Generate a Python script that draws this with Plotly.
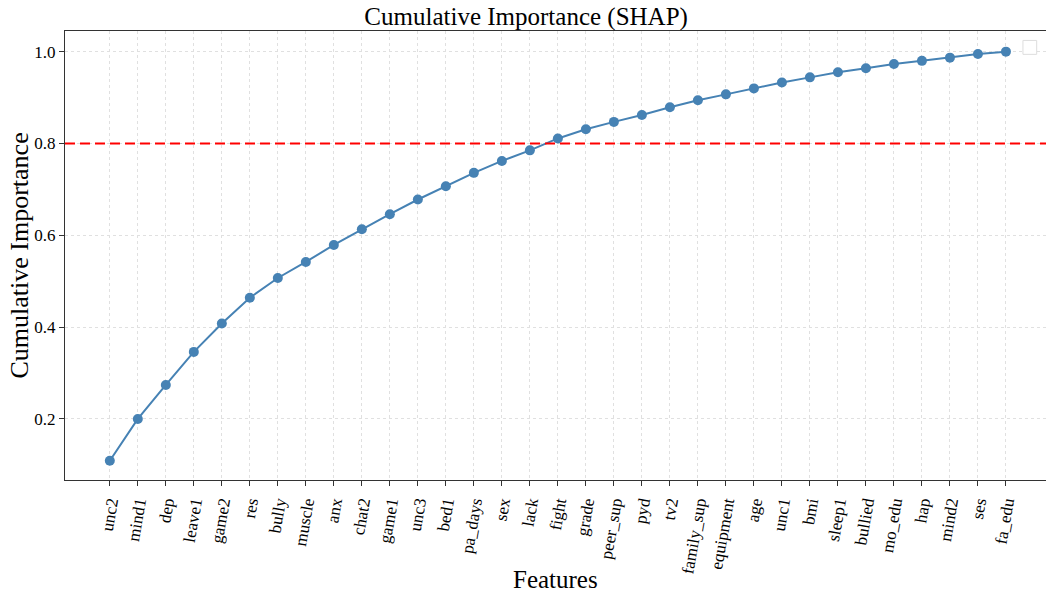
import plotly.graph_objects as go

features = ["unc2", "mind1", "dep", "leave1", "game2", "res", "bully", "muscle", "anx",
            "chat2", "game1", "unc3", "bed1", "pa_days", "sex", "lack", "fight", "grade",
            "peer_sup", "pyd", "tv2", "family_sup", "equipment", "age", "unc1", "bmi",
            "sleep1", "bullied", "mo_edu", "hap", "mind2", "ses", "fa_edu"]
cumulative = [0.109, 0.200, 0.274, 0.346, 0.408, 0.464, 0.507, 0.542, 0.579,
              0.613, 0.646, 0.678, 0.707, 0.736, 0.762, 0.785, 0.811, 0.831,
              0.847, 0.862, 0.879, 0.894, 0.907, 0.920, 0.933, 0.944,
              0.955, 0.964, 0.973, 0.980, 0.987, 0.995, 1.000]
threshold = 0.8
y_ticks = [0.2, 0.4, 0.6, 0.8, 1.0]

FONT = "Liberation Serif, Times New Roman, serif"
idx = list(range(len(features)))

fig = go.Figure()
fig.add_trace(go.Scatter(
    x=idx, y=cumulative, mode="lines+markers",
    line=dict(color="#4682B4", width=2),
    marker=dict(color="#4682B4", size=10),
    showlegend=False,
))

fig.add_shape(type="line", xref="paper", yref="y", x0=0, x1=1,
              y0=threshold, y1=threshold,
              line=dict(color="red", width=2, dash="10px,5px"))

# empty legend box (as in reference)
fig.add_shape(type="rect", xref="paper", yref="paper",
              x0=0.9765, x1=0.9905, y0=0.948, y1=0.979,
              line=dict(color="#dddddd", width=1), fillcolor="white")

fig.add_annotation(text="Cumulative Importance", xref="paper", yref="paper",
                   x=0, y=0.5, xanchor="center", yanchor="middle",
                   xshift=-46, textangle=-90, showarrow=False,
                   font=dict(size=26, family=FONT, color="black"))

fig.add_annotation(text="Features", xref="paper", yref="paper",
                   x=0.5, y=0, xanchor="center", yanchor="middle",
                   yshift=-99, showarrow=False,
                   font=dict(size=25, family=FONT, color="black"))

fig.update_layout(
    width=1046, height=596,
    margin=dict(l=65, r=0, t=31, b=116),
    paper_bgcolor="white", plot_bgcolor="white",
    font=dict(family=FONT, color="black"),
    title=dict(text="Cumulative Importance (SHAP)", x=0.503, xanchor="center",
               y=0.972, yanchor="middle", font=dict(size=25, family=FONT)),
    xaxis=dict(
        range=[-1.6, 33.43], automargin=False,
        tickmode="array", tickvals=idx, ticktext=features,
        tickangle=-80, tickfont=dict(size=17, family=FONT),
        ticks="outside", ticklen=5, tickcolor="#333",
        showline=True, linecolor="#333", linewidth=1.2, mirror=True,
        showgrid=True, gridcolor="#e0e0e0", griddash="3px,3px", gridwidth=1,
        zeroline=False,
    ),
    yaxis=dict(
        range=[0.067, 1.045], automargin=False,
        tickmode="array", tickvals=y_ticks, ticktext=[f"{v:.1f}" for v in y_ticks],
        tickfont=dict(size=17, family=FONT),
        ticks="outside", ticklen=5, tickcolor="#333",
        showline=True, linecolor="#333", linewidth=1.2, mirror=False,
        showgrid=True, gridcolor="#e0e0e0", griddash="3px,3px", gridwidth=1,
        zeroline=False,
    ),
)

fig.write_html("out.html")
